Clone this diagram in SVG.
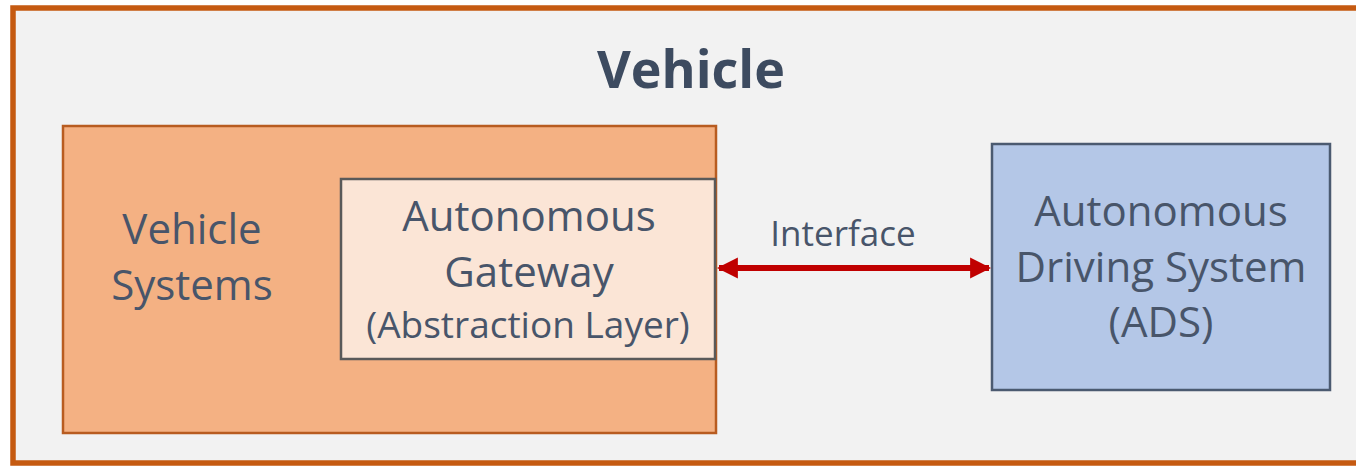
<svg xmlns="http://www.w3.org/2000/svg" width="1356" height="466" viewBox="0 0 1356 466">
<defs>
<style>
text{font-family:"Open Sans","Noto Sans",sans-serif;fill:#48556A;text-anchor:middle}
.lbl{font-size:42px}
.sub{font-size:37px}
.title{font-size:52px;font-weight:bold;fill:#3D4B60}
</style>
<marker id="ah" viewBox="0 0 10 10" refX="9" refY="5" markerWidth="3.5" markerHeight="3.7" orient="auto-start-reverse" markerUnits="strokeWidth">
<path d="M0,0 L10,5 L0,10 z" fill="#C00000"/>
</marker>
</defs>
<rect x="0" y="0" width="1356" height="466" fill="#FFFFFF"/>
<g id="vehicle">
<rect x="13" y="8" width="1360" height="455" fill="#F2F2F2" stroke="#C55A11" stroke-width="5.5"/>
<text class="title" x="691" y="88">Vehicle</text>
</g>
<g id="vehicle-systems">
<rect x="63" y="126" width="653" height="307" fill="#F4B183" stroke="#B85C20" stroke-width="2.5"/>
<text class="lbl" x="192" y="244">Vehicle</text>
<text class="lbl" x="192" y="300">Systems</text>
</g>
<g id="gateway">
<rect x="341" y="179" width="374" height="180" fill="#FBE5D6" stroke="#595959" stroke-width="2.5"/>
<text class="lbl" x="529" y="231">Autonomous</text>
<text class="lbl" x="529" y="287">Gateway</text>
<text class="sub" x="528" y="338">(Abstraction Layer)</text>
</g>
<g id="ads">
<rect x="992" y="144" width="338" height="246" fill="#B4C7E7" stroke="#4B5A70" stroke-width="2.5"/>
<text class="lbl" x="1161" y="226">Autonomous</text>
<text class="lbl" x="1161" y="282">Driving System</text>
<text class="lbl" x="1161" y="337">(ADS)</text>
</g>
<g id="connectors">
<line x1="719" y1="268" x2="989" y2="268" stroke="#C00000" stroke-width="6" marker-start="url(#ah)" marker-end="url(#ah)"/>
<text x="843" y="246" style="font-size:35px">Interface</text>
</g>
</svg>
